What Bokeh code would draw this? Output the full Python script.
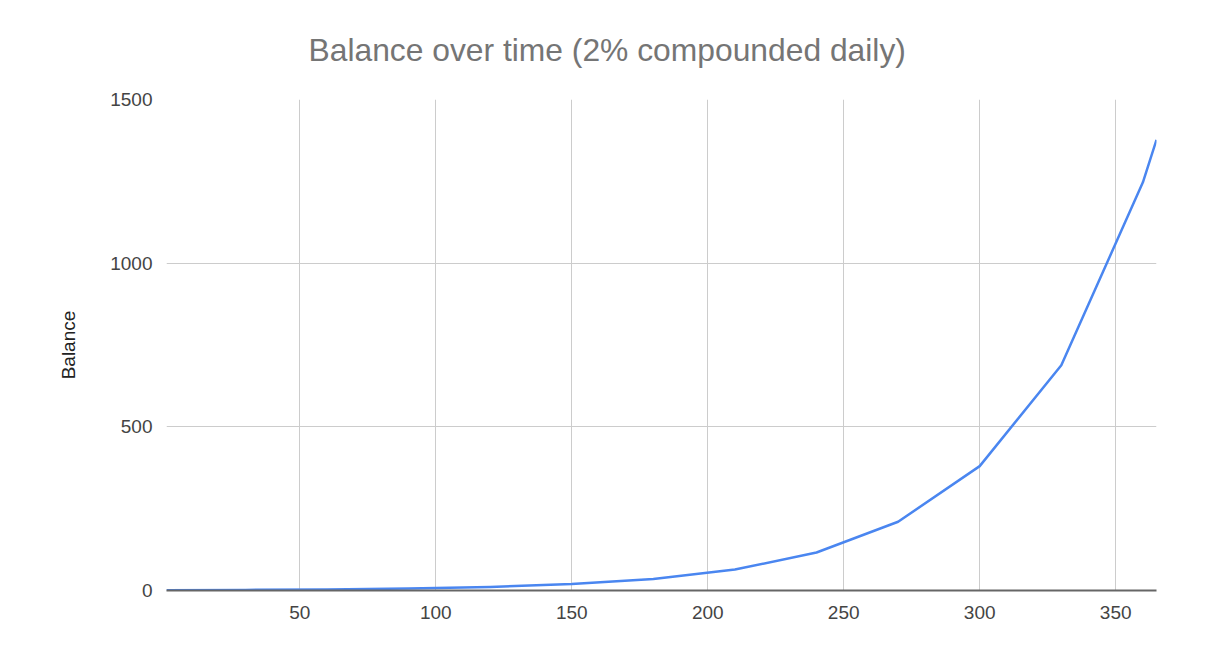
from bokeh.plotting import figure
from bokeh.models import FixedTicker, Range1d, Title
from bokeh.embed import file_html
from bokeh.resources import INLINE

# Data
days = [1, 30, 60, 90, 120, 150, 180, 210, 240, 270, 300, 330, 360, 365]
balance = [1.02, 1.8, 3.3, 5.9, 10.8, 19.5, 35.3, 64, 116, 210, 380, 688, 1247, 1377]
x_ticks = [50, 100, 150, 200, 250, 300, 350]
y_ticks = [0, 500, 1000, 1500]
title_text = "Balance over time (2% compounded daily)"
y_label = "Balance"

FONT = "Liberation Sans"
W, H = 1210, 636
L, T = 166, 99
FW, FH = 990, 491
R = W - L - FW
B = H - T - FH

p = figure(width=W, height=H, output_backend="svg", toolbar_location=None,
           x_range=Range1d(1, 365), y_range=Range1d(0, 1500),
           min_border_left=L, min_border_right=R, min_border_top=T, min_border_bottom=B)
p.outline_line_color = None
p.background_fill_color = "white"
p.border_fill_color = "white"

# grid
p.xgrid.ticker = FixedTicker(ticks=x_ticks)
p.ygrid.ticker = FixedTicker(ticks=y_ticks)
p.xgrid.grid_line_color = "#cccccc"
p.ygrid.grid_line_color = "#cccccc"
p.xgrid.grid_line_width = 1
p.ygrid.grid_line_width = 1

# x axis
xa = p.xaxis[0]
xa.ticker = FixedTicker(ticks=x_ticks)
xa.axis_line_color = "#666666"
xa.axis_line_width = 2
xa.major_tick_line_color = None
xa.minor_tick_line_color = None
xa.major_label_text_font = FONT
xa.major_label_text_font_size = "19px"
xa.major_label_text_color = "#444444"
xa.major_label_standoff = 9

# y axis
ya = p.yaxis[0]
ya.ticker = FixedTicker(ticks=y_ticks)
ya.axis_line_color = None
ya.major_tick_line_color = None
ya.minor_tick_line_color = None
ya.major_label_text_font = FONT
ya.major_label_text_font_size = "19px"
ya.major_label_text_color = "#444444"
ya.major_label_standoff = 8
ya.axis_label = y_label
ya.axis_label_text_font = FONT
ya.axis_label_text_font_size = "19px"
ya.axis_label_text_font_style = "normal"
ya.axis_label_text_color = "#222222"
ya.axis_label_standoff = 28

p.line(days, balance, line_color="#4a86f0", line_width=2.5, line_join="round")

title = Title(text=title_text, align="left", offset=142, standoff=60,
              vertical_align="top", text_font=FONT, text_font_size="31.8px",
              text_font_style="normal", text_color="#757575")
p.add_layout(title, "above")

open("out.html", "w").write(file_html(p, INLINE))
